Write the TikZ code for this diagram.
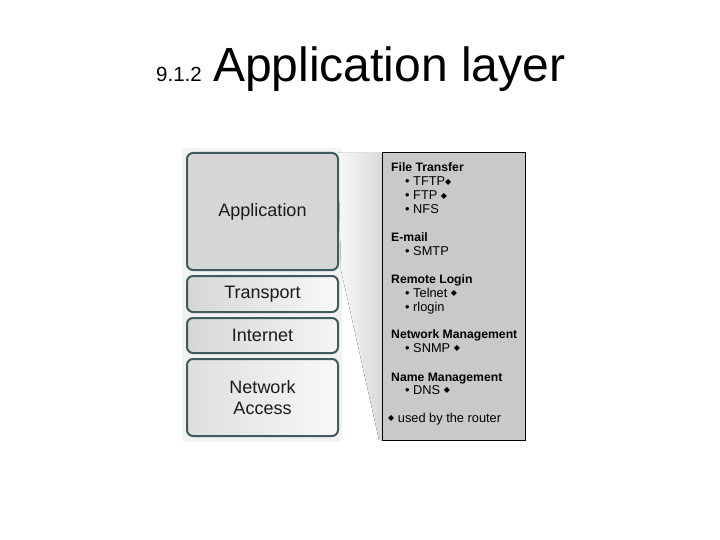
\documentclass[tikz,border=0pt]{standalone}
\usepackage{fontspec}
\setmainfont{Liberation Sans}
\newfontfamily\dvfont{DejaVu Sans}
\usetikzlibrary{shapes.geometric}
\definecolor{layerborder}{HTML}{3F5C5C}
\definecolor{layerfill}{HTML}{D6D6D6}
\definecolor{panelfill}{HTML}{C9C9C9}
\newcommand{\dmd}{\raisebox{1.5pt}{\dvfont\fontsize{8}{8}\selectfont ◆}}
\tikzset{
  layerbox/.style={draw=layerborder, line width=2pt, rounded corners=6pt, minimum width=151pt, align=center, font=\fontsize{18}{21}\selectfont, text=black!90},
  head/.style={anchor=base west, font=\bfseries\fontsize{12.2}{14}\selectfont, inner sep=0pt},
  item/.style={anchor=base west, font=\fontsize{12.8}{14}\selectfont, inner sep=0pt},
}
\begin{document}
\begin{tikzpicture}[x=1pt,y=-1pt]
\useasboundingbox (0,0) rectangle (720,540);
% title
\node[anchor=base west, inner sep=0pt, font=\fontsize{20.5}{22}\selectfont] (num) at (156,82) {9.1.2};
\node[anchor=base west, inner sep=0pt, font=\fontsize{48}{50}\selectfont] (title) at (213,82) {Application layer};
% background behind stack
\fill[gray!10, rounded corners=4pt] (182,148) rectangle (342,442);
% wedge
\fill[left color=white!95!gray, right color=gray!30] (338,153) -- (382,153) -- (382,440) -- (379,440) -- (341,270) -- cycle;
% layers
\node[layerbox, minimum height=117pt, fill=layerfill] (app) at (262.5,211.5) {Application};
\node[layerbox, minimum height=36pt, left color=layerfill, right color=white!95!gray] (trans) at (262.5,294) {Transport};
\node[layerbox, minimum height=35pt, left color=layerfill, right color=white!92!gray] (inet) at (262.5,335.5) {Internet};
\node[layerbox, minimum height=77pt, left color=layerfill!80!white, right color=white!95!gray] (net) at (262.5,397.5) {Network\\Access};
% panel
\node[draw=black, line width=0.9pt, fill=panelfill, minimum width=143pt, minimum height=288pt, inner sep=0pt] (panel) at (453.5,296) {};
\node[head] (ft) at (391,172) {File Transfer};
\node[item] (tftp) at (405,186) {• TFTP\dmd};
\node[item] (ftp) at (405,200) {• FTP \dmd};
\node[item] (nfs) at (405,214) {• NFS};
\node[head] (email) at (391,241) {E-mail};
\node[item] (smtp) at (405,255) {• SMTP};
\node[head] (rl) at (391,283) {Remote Login};
\node[item] (telnet) at (405,297) {• Telnet \dmd};
\node[item] (rlogin) at (405,311) {• rlogin};
\node[head] (nm) at (391,338) {Network Management};
\node[item] (snmp) at (405,352) {• SNMP \dmd};
\node[head] (nam) at (391,381) {Name Management};
\node[item] (dns) at (405,394) {• DNS \dmd};
\node[item] (legend) at (388,422) {\dmd\ used by the router};
\end{tikzpicture}
\end{document}
